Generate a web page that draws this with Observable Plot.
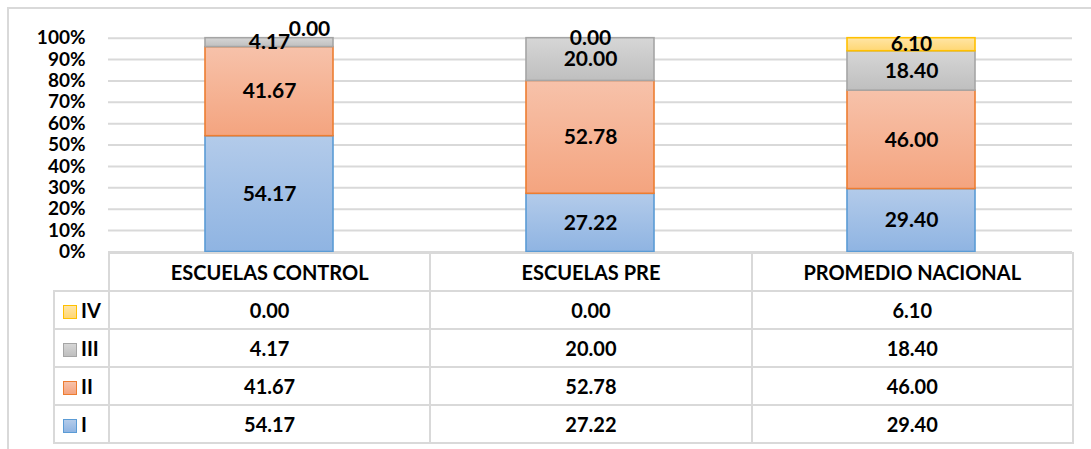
<!DOCTYPE html>
<html>
<head>
<meta charset="utf-8">
<script src="https://cdn.jsdelivr.net/npm/d3@7"></script>
<script src="https://cdn.jsdelivr.net/npm/@observablehq/plot@0.6"></script>
<style>
  html, body { margin: 0; padding: 0; background: #fff; }
  #chart { position: relative; width: 1091px; height: 449px; background: #fff; font-family: Lato, "Open Sans", sans-serif; overflow: hidden; }
  #frame { position: absolute; left: 7px; top: 7px; width: 1200px; height: 600px; border-left: 2px solid #d9d9d9; border-top: 2px solid #d9d9d9; }
  #plot { position: absolute; left: 0; top: 0; }
  #tbl { position: absolute; left: 53px; top: 252px; border-collapse: collapse; table-layout: fixed; font-weight: 700; font-size: 20px; color: #000; }
  #tbl td { border: 2px solid #d9d9d9; height: 36px; padding: 0; text-align: center; }
  #tbl td.blank { border: none; border-right: 2px solid #d9d9d9; }
  #tbl td.leg { text-align: left; padding-left: 8px; white-space: nowrap; }
  .sw { display: inline-block; box-sizing: border-box; width: 14px; height: 14px; border: 1.5px solid; vertical-align: -1px; margin-right: 4px; }
</style>
</head>
<body>
<div id="chart">
  <div id="frame"></div>
  <div id="plot"></div>
  <table id="tbl"></table>
</div>
<script>
// ---- data ----
const categories = ["ESCUELAS CONTROL", "ESCUELAS PRE", "PROMEDIO NACIONAL"];
const levels = ["I", "II", "III", "IV"];
const valuesI = [54.17, 27.22, 29.40];
const valuesII = [41.67, 52.78, 46.00];
const valuesIII = [4.17, 20.00, 18.40];
const valuesIV = [0.00, 0.00, 6.10];
const yTicks = [0, 0.1, 0.2, 0.3, 0.4, 0.5, 0.6, 0.7, 0.8, 0.9, 1];
const yTickLabels = ["0%", "10%", "20%", "30%", "40%", "50%", "60%", "70%", "80%", "90%", "100%"];

// ---- styles ----
const colors = {
  I:   {top: "#b3cbea", bottom: "#8fb4e2", stroke: "#5b9bd5"},
  II:  {top: "#f7c2aa", bottom: "#f4a47f", stroke: "#ed7d31"},
  III: {top: "#d6d6d6", bottom: "#bfbfbf", stroke: "#a5a5a5"},
  IV:  {top: "#ffe5a6", bottom: "#ffd773", stroke: "#ffc000"}
};

const seriesByLevel = {I: valuesI, II: valuesII, III: valuesIII, IV: valuesIV};
const data = [];
categories.forEach((c, i) => {
  levels.forEach(l => data.push({cat: c, level: l, value: seriesByLevel[l][i]}));
});

const fmt = v => v.toFixed(2);
const isMoved = d => d.cat === categories[0] && d.level === "IV";

const stackOpts = {x: "cat", y: "value", offset: "normalize", order: null};

const plot = Plot.plot({
  width: 1091,
  height: 262,
  marginLeft: 108,
  marginRight: 19,
  marginTop: 37.7,
  marginBottom: 10.5,
  style: {fontFamily: "Lato, 'Open Sans', sans-serif", overflow: "visible", background: "transparent"},
  x: {domain: categories, paddingInner: 0.6, paddingOuter: 0.3, axis: null},
  y: {domain: [0, 1], axis: null, label: null},
  color: {type: "identity"},
  marks: [
    Plot.gridY(yTicks, {stroke: "#d9d9d9", strokeOpacity: 1, strokeWidth: 2}),
    Plot.axisY(yTicks, {
      tickSize: 0, tickPadding: 23, label: null,
      tickFormat: d => yTickLabels[yTicks.indexOf(d)],
      fontSize: 19, fontWeight: 700, fill: "#000"
    }),
    Plot.barY(data, Plot.stackY({
      ...stackOpts,
      fill: d => `url(#grad-${d.level})`,
      stroke: d => colors[d.level].stroke,
      strokeWidth: 1.6,
      inset: 0
    })),
    Plot.text(data, Plot.stackY({
      ...stackOpts,
      text: d => isMoved(d) ? "" : fmt(d.value),
      fontSize: 21, fontWeight: 700, fill: "#000"
    })),
    Plot.text(data, Plot.stackY({
      ...stackOpts,
      text: d => isMoved(d) ? fmt(d.value) : "",
      dx: 40, dy: -9,
      fontSize: 21, fontWeight: 700, fill: "#000"
    }))
  ]
});

// gradients
const NS = "http://www.w3.org/2000/svg";
const defs = document.createElementNS(NS, "defs");
for (const l of levels) {
  const g = document.createElementNS(NS, "linearGradient");
  g.setAttribute("id", `grad-${l}`);
  g.setAttribute("x1", "0"); g.setAttribute("y1", "0");
  g.setAttribute("x2", "0"); g.setAttribute("y2", "1");
  const s1 = document.createElementNS(NS, "stop");
  s1.setAttribute("offset", "0"); s1.setAttribute("stop-color", colors[l].top);
  const s2 = document.createElementNS(NS, "stop");
  s2.setAttribute("offset", "1"); s2.setAttribute("stop-color", colors[l].bottom);
  g.appendChild(s1); g.appendChild(s2);
  defs.appendChild(g);
}
plot.insertBefore(defs, plot.firstChild);
document.getElementById("plot").appendChild(plot);

// table
const tbl = document.getElementById("tbl");
const colg = document.createElement("colgroup");
[55, 321.3, 321.3, 321.3].forEach(w => {
  const col = document.createElement("col");
  col.style.width = w + "px";
  colg.appendChild(col);
});
tbl.appendChild(colg);
const head = document.createElement("tr");
const blank = document.createElement("td");
blank.className = "blank";
head.appendChild(blank);
categories.forEach(c => {
  const td = document.createElement("td");
  td.textContent = c;
  head.appendChild(td);
});
tbl.appendChild(head);
[...levels].reverse().forEach(l => {
  const tr = document.createElement("tr");
  const lg = document.createElement("td");
  lg.className = "leg";
  const sw = document.createElement("span");
  sw.className = "sw";
  sw.style.background = `linear-gradient(${colors[l].top}, ${colors[l].bottom})`;
  sw.style.borderColor = colors[l].stroke;
  lg.appendChild(sw);
  lg.appendChild(document.createTextNode(l));
  tr.appendChild(lg);
  seriesByLevel[l].forEach(v => {
    const td = document.createElement("td");
    td.textContent = fmt(v);
    tr.appendChild(td);
  });
  tbl.appendChild(tr);
});
</script>
</body>
</html>
